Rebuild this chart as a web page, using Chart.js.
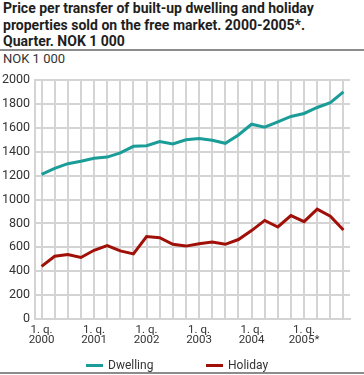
<!DOCTYPE html>
<html>
<head>
<meta charset="utf-8">
<script src="https://cdn.jsdelivr.net/npm/chart.js@4.4.1/dist/chart.umd.min.js"></script>
<style>
  body { margin: 0; width: 364px; height: 375px; overflow: hidden; background: #fff; font-family: Roboto, sans-serif; }
  #wrap { position: relative; width: 364px; height: 375px; }
  #chart { position: absolute; left: 0; top: 0; }
  .title { position: absolute; left: 3px; top: 0; font-weight: bold; font-size: 14px; line-height: 16.5px; color: #1e1e1e; }
  .sep { position: absolute; left: 0; width: 364px; height: 2px; background: #8c8c8c; }
  .unit { position: absolute; left: 3px; top: 51px; font-size: 13px; color: #333; }
  .leg { position: absolute; top: 358px; font-size: 12px; color: #333; line-height: 14px; }
  .leg i { position: absolute; top: 6px; width: 17px; height: 3px; }
</style>
</head>
<body>
<div id="wrap">
  <div class="title">Price per transfer of built-up dwelling and holiday<br>properties sold on the free market. 2000-2005*.<br>Quarter. NOK 1 000</div>
  <div class="sep" style="top:49px"></div>
  <div class="unit">NOK 1 000</div>
  <canvas id="chart" width="364" height="375"></canvas>
  <div class="leg" style="left:86px"><i style="left:0;background:#1a9c98"></i><span style="margin-left:22px">Dwelling</span></div>
  <div class="leg" style="left:206px"><i style="left:0;background:#a01008"></i><span style="margin-left:22px">Holiday</span></div>
  <div class="sep" style="top:372px"></div>
</div>
<script>
// quarters 2000-2005, only 1st quarter is labelled
let years = ['2000', '2001', '2002', '2003', '2004', '2005*']
let quarters = []
years.forEach(y => {
    quarters.push(['1. q.', y], '', '', '')
})

let dwelling = [1210, 1260, 1300, 1320, 1345, 1355, 1390, 1445,
                1450, 1485, 1465, 1500, 1510, 1495, 1470, 1540,
                1630, 1605, 1650, 1695, 1720, 1770, 1810, 1900]
let holiday = [440, 525, 540, 515, 575, 615, 570, 545,
               690, 680, 625, 610, 630, 645, 625, 665,
               740, 825, 770, 865, 815, 920, 860, 745]

let gridColor = '#d4d4d4'
let textColor = '#333'

let ctx = document.querySelector('#chart').getContext('2d')

let priceChart = new Chart(ctx, {
    type: 'line',
    data: {
        labels: quarters,
        datasets: [
            {
                label: 'Dwelling',
                data: dwelling,
                borderColor: '#1a9c98',
                backgroundColor: '#1a9c98',
                borderWidth: 3,
                pointRadius: 0,
                tension: 0,
                fill: false
            },
            {
                label: 'Holiday',
                data: holiday,
                borderColor: '#a01008',
                backgroundColor: '#a01008',
                borderWidth: 3,
                pointRadius: 0,
                tension: 0,
                fill: false
            }
        ]
    },
    options: {
        responsive: false,
        animation: false,
        layout: {
            padding: { top: 80, right: 14, bottom: 0, left: 0 }
        },
        scales: {
            x: {
                offset: true,
                grid: { color: gridColor, lineWidth: 2, drawTicks: false },
                border: { color: gridColor, width: 2 },
                ticks: {
                    autoSkip: false,
                    maxRotation: 0,
                    padding: 6,
                    color: textColor,
                    font: { family: 'Roboto', size: 11.5, lineHeight: 0.9 }
                },
                afterFit: (scale) => { scale.height = 56 }
            },
            y: {
                min: 0,
                max: 2000,
                ticks: {
                    stepSize: 200,
                    padding: 5,
                    color: textColor,
                    font: { family: 'Roboto', size: 12.5 },
                    callback: (value) => String(value)
                },
                grid: { color: gridColor, lineWidth: 2, drawTicks: false },
                border: { color: gridColor, width: 2 },
                afterFit: (scale) => { scale.width = 35 }
            }
        },
        plugins: {
            legend: { display: false },
            tooltip: { enabled: false }
        }
    }
})
</script>
</body>
</html>
